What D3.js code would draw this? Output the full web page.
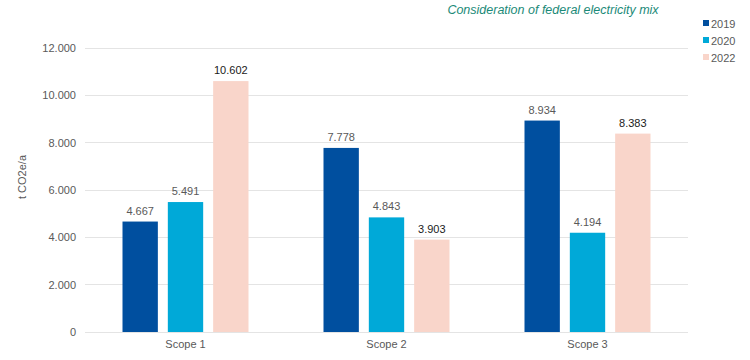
<!DOCTYPE html>
<html><head><meta charset="utf-8">
<script src="https://cdn.jsdelivr.net/npm/d3@7"></script>
<style>body{margin:0;background:#fff;}svg{display:block;font-family:"Liberation Sans",Arial,sans-serif;}</style>
</head><body><svg id="c" width="750" height="360"></svg>
<script>
const categories = ["Scope 1", "Scope 2", "Scope 3"];
const seriesNames = ["2019", "2020", "2022"];
const values2019 = [4667, 7778, 8934];
const values2020 = [5491, 4843, 4194];
const values2022 = [10602, 3903, 8383];
const yTicks = [0, 2000, 4000, 6000, 8000, 10000, 12000];
const colors = ["#004f9f", "#00a9d8", "#f9d5ca"];
const labelColors = ["#595959", "#595959", "#1a1a1a"];
const series = [values2019, values2020, values2022];

const loc = d3.formatLocale({decimal: ",", thousands: ".", grouping: [3], currency: ["", ""]});
const fmt = loc.format(",d");

const svg = d3.select("#c");
const L = 85, R = 688, T = 48, B = 332;
const y = d3.scaleLinear().domain([0, 12000]).range([B, T]);
const x0 = d3.scaleBand().domain(categories).range([L, R]).padding(0);
const gw = x0.bandwidth();
const x1 = d3.scaleBand().domain(seriesNames).range([37.5, gw - 37.5]).paddingInner(0.22).paddingOuter(0);

// gridlines
svg.append("g").selectAll("line").data(yTicks).join("line")
  .attr("x1", L).attr("x2", R).attr("y1", d => y(d)).attr("y2", d => y(d))
  .attr("stroke", "#e4e4e4").attr("stroke-width", 1).attr("shape-rendering", "crispEdges");

// y tick labels
svg.append("g").selectAll("text").data(yTicks).join("text")
  .attr("x", 76).attr("y", d => y(d) + 4).attr("text-anchor", "end")
  .attr("font-size", 11).attr("fill", "#595959").text(d => fmt(d));

// y-axis title
svg.append("text").attr("transform", "translate(26,177) rotate(-90)")
  .attr("text-anchor", "middle").attr("font-size", 11).attr("fill", "#595959").text("t CO2e/a");

// bars
const groups = svg.append("g").selectAll("g").data(categories).join("g")
  .attr("transform", d => `translate(${x0(d)},0)`);
seriesNames.forEach((s, si) => {
  groups.append("rect")
    .attr("x", x1(s)).attr("width", x1.bandwidth())
    .attr("y", (d, i) => y(series[si][i]))
    .attr("height", (d, i) => y(0) - y(series[si][i]))
    .attr("fill", colors[si]);
  groups.append("text")
    .attr("x", x1(s) + x1.bandwidth() / 2)
    .attr("y", (d, i) => y(series[si][i]) - 7)
    .attr("text-anchor", "middle").attr("font-size", 11)
    .attr("fill", labelColors[si])
    .text((d, i) => fmt(series[si][i]));
});

// x labels
svg.append("g").selectAll("text").data(categories).join("text")
  .attr("x", d => x0(d) + gw / 2).attr("y", 348).attr("text-anchor", "middle")
  .attr("font-size", 11).attr("fill", "#595959").text(d => d);

// title
svg.append("text").attr("x", 553).attr("y", 14).attr("text-anchor", "middle")
  .attr("font-size", 12.5).attr("font-style", "italic").attr("fill", "#1b8a78")
  .text("Consideration of federal electricity mix");

// legend
const lg = svg.append("g").selectAll("g").data(seriesNames).join("g")
  .attr("transform", (d, i) => `translate(703,${24 + i * 17})`);
lg.append("rect").attr("x", 0).attr("y", -4).attr("width", 6).attr("height", 6)
  .attr("fill", (d, i) => colors[i]);
lg.append("text").attr("x", 8).attr("y", 3.5).attr("font-size", 11).attr("fill", "#595959").text(d => d);
</script></body></html>
